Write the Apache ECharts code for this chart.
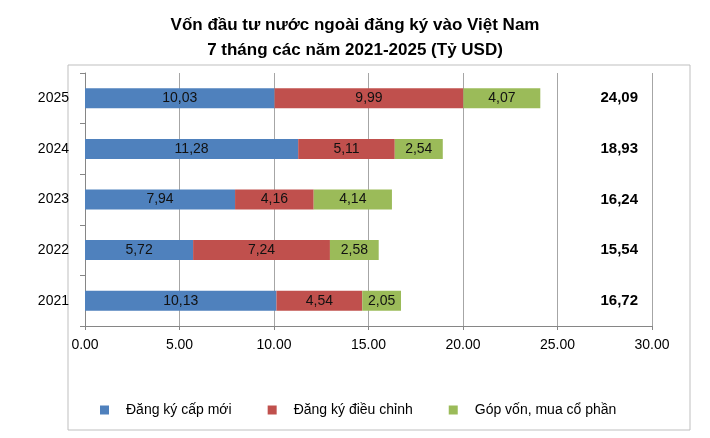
<!DOCTYPE html><html><head><meta charset="utf-8">
<script src="https://cdn.jsdelivr.net/npm/echarts@6/dist/echarts.min.js"></script>
<style>html,body{margin:0;padding:0;background:#fff}#c{width:710px;height:438px}</style></head>
<body><div id="c"></div><script>
const years=['2021','2022','2023','2024','2025'];
const dangKyMoi=[10.13,5.72,7.94,11.28,10.03];
const dieuChinh=[4.54,7.24,4.16,5.11,9.99];
const gopVon=[2.05,2.58,4.14,2.54,4.07];
const totals=['16,72','15,54','16,24','18,93','24,09'];
const fmt=v=>v.toFixed(2).replace('.',',');
const lab={show:true,position:'inside',color:'#111',fontSize:14,fontFamily:'Arial',formatter:p=>fmt(p.value)};
const c=echarts.init(document.getElementById('c'));
c.setOption({
 animation:false,
 title:{text:'Vốn đầu tư nước ngoài đăng ký vào Việt Nam\n7 tháng các năm 2021-2025 (Tỷ USD)',left:'center',top:8,textStyle:{fontSize:17,fontWeight:'bold',fontFamily:'Arial',color:'#000',lineHeight:25}},
 graphic:[{type:'rect',shape:{x:68,y:65,width:622,height:365},style:{fill:'none',stroke:'#bfbfbf',lineWidth:1},silent:true}],
 legend:{top:398,left:95,itemWidth:9,itemHeight:9,itemGap:36,icon:'rect',textStyle:{fontSize:14,fontFamily:'Arial',color:'#000',padding:[0,0,0,12]}},
 grid:{left:85,right:58,top:73,bottom:112},
 xAxis:{type:'value',min:0,max:30,interval:5,axisLabel:{formatter:v=>v.toFixed(2),fontSize:14,fontFamily:'Arial',color:'#000',margin:12},
  splitLine:{show:true,lineStyle:{color:'#a6a6a6'}},axisLine:{show:true,lineStyle:{color:'#868686'}},axisTick:{show:true,length:4,lineStyle:{color:'#868686'}}},
 yAxis:[{type:'category',data:years,axisLabel:{fontSize:14,fontFamily:'Arial',color:'#000',margin:16},
  axisTick:{show:true,length:5,lineStyle:{color:'#868686'}},axisLine:{show:true,lineStyle:{color:'#868686'}},splitLine:{show:false}},
  {type:'category',data:totals,position:'right',axisLabel:{inside:true,margin:14,fontSize:15,fontWeight:'bold',fontFamily:'Arial',color:'#000'},axisTick:{show:false},axisLine:{show:false}}],
 series:[
  {name:'Đăng ký cấp mới',type:'bar',stack:'a',data:dangKyMoi,barWidth:20,itemStyle:{color:'#4f81bd'},label:lab},
  {name:'Đăng ký điều chỉnh',type:'bar',stack:'a',data:dieuChinh,itemStyle:{color:'#c0504d'},label:lab},
  {name:'Góp vốn, mua cổ phần',type:'bar',stack:'a',data:gopVon,itemStyle:{color:'#9bbb59'},label:lab}
 ]
});
</script></body></html>
